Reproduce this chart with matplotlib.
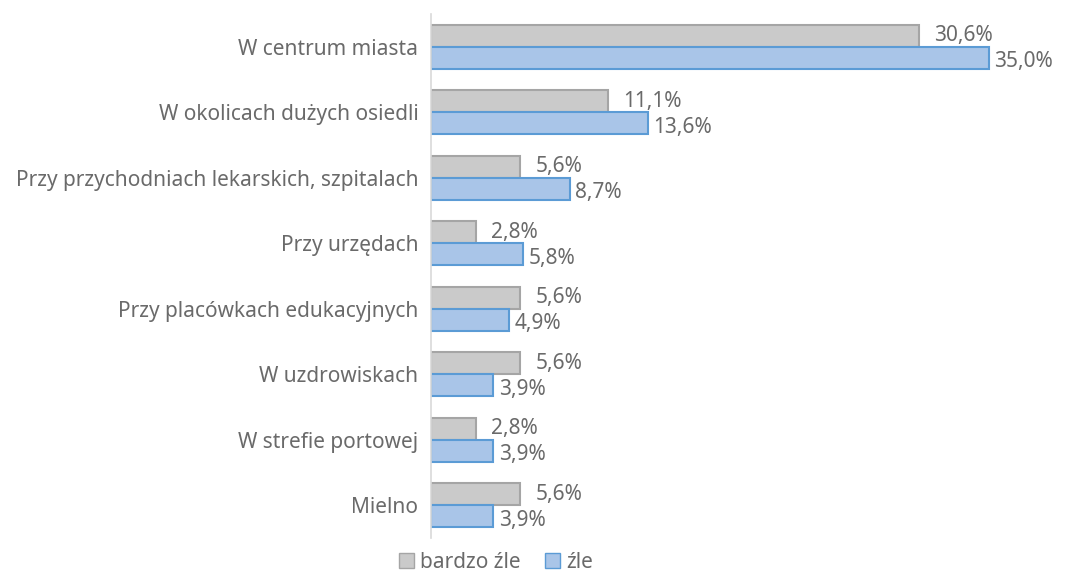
import matplotlib.pyplot as plt
import numpy as np
from matplotlib.patches import Patch

categories = ["W centrum miasta", "W okolicach dużych osiedli",
              "Przy przychodniach lekarskich, szpitalach", "Przy urzędach",
              "Przy placówkach edukacyjnych", "W uzdrowiskach",
              "W strefie portowej", "Mielno"]
bardzo_zle = [30.6, 11.1, 5.6, 2.8, 5.6, 5.6, 2.8, 5.6]
zle = [35.0, 13.6, 8.7, 5.8, 4.9, 3.9, 3.9, 3.9]
series_names = ["bardzo źle", "źle"]

plt.rcParams['font.family'] = ['Noto Sans', 'DejaVu Sans']
text_col = "#6a6a6a"
fs = 15

fig = plt.figure(figsize=(10.66, 5.73), dpi=100)
ax = fig.add_axes([0.4043, 0.061, 0.5683, 0.9146])

y = np.arange(len(categories))
h = 0.336
gray_fc, gray_ec = "#cacaca", "#a5a5a5"
blue_fc, blue_ec = "#a9c5e8", "#5b9bd5"

# two bars per category: "bardzo źle" on top, "źle" below
ax.barh(y - h / 2, bardzo_zle, height=h, color=gray_fc, edgecolor=gray_ec, linewidth=1.5)
ax.barh(y + h / 2, zle, height=h, color=blue_fc, edgecolor=blue_ec, linewidth=1.5)

for i in range(len(categories)):
    ax.annotate(("%.1f%%" % bardzo_zle[i]).replace(".", ","), (bardzo_zle[i], y[i] - h / 2),
                xytext=(11, 0), textcoords="offset points", va="center", ha="left",
                fontsize=fs, color=text_col)
    ax.annotate(("%.1f%%" % zle[i]).replace(".", ","), (zle[i], y[i] + h / 2),
                xytext=(4, -3), textcoords="offset points", va="center", ha="left",
                fontsize=fs, color=text_col)

ax.set_xlim(0, 38)
ax.set_ylim(len(categories) - 0.5, -0.5)
ax.set_yticks(y)
ax.set_yticklabels(categories, fontsize=fs, color=text_col)
ax.tick_params(axis="y", length=0, pad=9)
ax.set_xticks([])
for s in ["top", "right", "bottom"]:
    ax.spines[s].set_visible(False)
ax.spines["left"].set_color("#d9d9d9")
ax.spines["left"].set_linewidth(1.2)

handles = [Patch(facecolor=gray_fc, edgecolor=gray_ec), Patch(facecolor=blue_fc, edgecolor=blue_ec)]
fig.legend(handles, series_names, loc="center", bbox_to_anchor=(496 / 1066, 1 - 562 / 573),
           ncol=2, frameon=False, fontsize=fs, labelcolor=text_col,
           handlelength=0.7, handleheight=0.7, handletextpad=0.3, columnspacing=1.2,
           borderpad=0)

fig.savefig("out.png", dpi=100)
plt.close()
